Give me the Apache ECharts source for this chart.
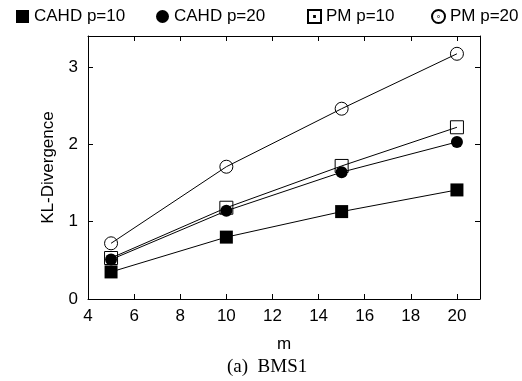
<!DOCTYPE html>
<html>
<head>
<meta charset="utf-8">
<script src="https://cdn.jsdelivr.net/npm/echarts@6/dist/echarts.min.js"></script>
<style>
  html, body { margin: 0; padding: 0; background: #fff; }
  #chart { width: 522px; height: 381px; }
</style>
</head>
<body>
<div id="chart"></div>
<script>
// m values on the x axis
var mValues = [5, 10, 15, 20];
// KL-Divergence
var cahd10 = [0.35, 0.80, 1.13, 1.41];
var cahd20 = [0.51, 1.14, 1.64, 2.03];
var pm10 = [0.53, 1.18, 1.72, 2.22];
var pm20 = [0.72, 1.71, 2.46, 3.17];
var seriesNames = ['CAHD p=10', 'CAHD p=20', 'PM p=10', 'PM p=20'];

var openSquareDot = 'path://M0,0 L10,0 L10,10 L0,10 Z M4.7,4.7 L5.3,4.7 L5.3,5.3 L4.7,5.3 Z';
var openCircleDot = 'path://M10,5 A5,5 0 1,1 0,5 A5,5 0 1,1 10,5 Z M5.2,5 A0.2,0.2 0 1,1 4.8,5 A0.2,0.2 0 1,1 5.2,5 Z';

function pairs(vals) {
    return mValues.map(function (m, i) { return [m, vals[i]]; });
}

function lineSeries(name, vals, symbol, filled, size) {
    return {
        name: name,
        type: 'line',
        data: pairs(vals),
        symbol: symbol,
        symbolSize: size,
        showAllSymbol: true,
        lineStyle: { color: '#000', width: 1 },
        itemStyle: {
            color: filled ? '#000' : 'rgba(0,0,0,0)',
            borderColor: '#000',
            borderWidth: filled ? 0 : 1
        },
        emphasis: { disabled: true },
        xAxisIndex: 0,
        yAxisIndex: 0
    };
}

function oneLegend(name, icon, left) {
    return {
        data: [{ name: name, icon: icon }],
        left: left,
        top: 3,
        itemWidth: 13,
        itemHeight: 13,
        selectedMode: false,
        textStyle: { fontSize: 17, color: '#000', fontFamily: 'Liberation Sans' }
    };
}

var chart = echarts.init(document.getElementById('chart'));
var axisFont = { fontSize: 17, color: '#000', fontFamily: 'Liberation Sans' };
var frameLine = { show: true, onZero: false, lineStyle: { color: '#000', width: 1 } };
var inTick = { show: true, inside: true, length: 5, lineStyle: { color: '#000' } };

chart.setOption({
    animation: false,
    textStyle: { fontFamily: 'Liberation Sans' },
    title: {
        text: '(a)  BMS1',
        left: 227,
        top: 358,
        padding: 0,
        textStyle: { fontFamily: 'Liberation Serif', fontSize: 19, fontWeight: 'normal', color: '#000' }
    },
    legend: [
        oneLegend(seriesNames[0], 'rect', 11),
        oneLegend(seriesNames[1], 'circle', 151),
        oneLegend(seriesNames[2], openSquareDot, 302),
        oneLegend(seriesNames[3], openCircleDot, 426)
    ],
    grid: { left: 88, right: 42, top: 36, bottom: 82 },
    xAxis: [{
        type: 'value',
        min: 4, max: 21, interval: 2,
        name: 'm',
        nameLocation: 'middle',
        nameGap: 37,
        nameTextStyle: axisFont,
        axisLine: frameLine,
        axisTick: inTick,
        axisLabel: Object.assign({ margin: 9, showMaxLabel: false }, axisFont),
        splitLine: { show: false }
    }, {
        type: 'value',
        position: 'top',
        min: 4, max: 21, interval: 2,
        axisLine: frameLine,
        axisTick: inTick,
        axisLabel: { show: false },
        splitLine: { show: false }
    }],
    yAxis: [{
        type: 'value',
        min: 0, max: 3.4, interval: 1,
        name: 'KL-Divergence',
        nameLocation: 'middle',
        nameRotate: 90,
        nameGap: 31,
        nameTextStyle: axisFont,
        axisLine: frameLine,
        axisTick: inTick,
        axisLabel: Object.assign({ margin: 10, showMaxLabel: false }, axisFont),
        splitLine: { show: false }
    }, {
        type: 'value',
        position: 'right',
        min: 0, max: 3.4, interval: 1,
        axisLine: frameLine,
        axisTick: inTick,
        axisLabel: { show: false },
        splitLine: { show: false }
    }],
    series: [
        lineSeries(seriesNames[0], cahd10, 'rect', true, 13),
        lineSeries(seriesNames[1], cahd20, 'circle', true, 12),
        lineSeries(seriesNames[2], pm10, 'rect', false, 13),
        lineSeries(seriesNames[3], pm20, 'circle', false, 13)
    ]
});
</script>
</body>
</html>
